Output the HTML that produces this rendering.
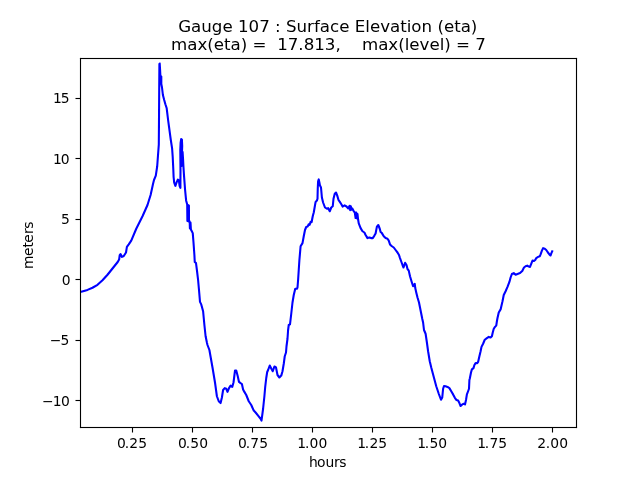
<!DOCTYPE html><html><head><meta charset="utf-8"><title>Gauge 107</title><style>html,body{margin:0;padding:0;background:#fff;width:640px;height:480px;overflow:hidden}svg{display:block;will-change:transform}text{font-family:"DejaVu Sans","Liberation Sans",sans-serif;fill:#000}</style></head><body>
<svg width="640" height="480" viewBox="0 0 640 480">
<rect x="0" y="0" width="640" height="480" fill="#fff"/>
<defs><clipPath id="ax"><rect x="80" y="57.6" width="496" height="369.6"/></clipPath></defs>
<path d="M80.00 292.00 L81.25 291.75 L87.50 289.90 L92.50 287.75 L97.50 284.80 L102.50 280.30 L107.50 274.75 L112.50 268.50 L117.70 262.00 L119.10 259.60 L119.75 255.00 L120.50 254.00 L122.00 256.90 L123.75 256.00 L126.00 252.50 L126.90 246.90 L128.75 244.40 L131.25 240.60 L136.25 228.75 L142.50 216.25 L147.50 205.00 L150.60 195.00 L152.25 187.50 L153.00 184.00 L154.00 180.00 L155.80 175.60 L157.20 166.25 L158.10 154.00 L158.80 144.70 L159.00 120.00 L159.20 90.00 L159.40 64.00 L159.70 63.50 L160.10 70.00 L160.40 76.00 L161.30 76.50 L161.30 84.00 L162.00 87.50 L162.90 95.00 L164.20 100.00 L165.40 104.20 L166.70 108.30 L167.30 113.30 L168.10 120.00 L169.00 126.70 L170.00 134.20 L170.80 140.00 L172.10 148.30 L172.70 156.70 L173.30 169.20 L173.60 177.00 L174.20 182.70 L175.40 185.80 L176.50 182.70 L177.80 179.60 L178.90 180.60 L179.60 185.80 L180.40 187.90 L180.50 170.00 L180.30 150.00 L180.60 143.00 L181.20 139.00 L181.90 139.50 L182.20 146.00 L181.50 166.00 L181.40 150.00 L182.60 152.00 L183.10 160.00 L183.40 166.00 L184.00 175.40 L185.10 190.00 L186.10 200.40 L187.20 204.50 L187.40 221.00 L188.00 205.00 L188.50 221.50 L188.90 205.50 L189.00 220.00 L189.70 222.00 L189.90 228.50 L190.50 222.50 L190.90 229.50 L191.70 231.00 L192.75 233.10 L193.50 242.50 L194.40 255.00 L194.75 261.90 L196.00 263.10 L196.90 270.00 L198.10 280.00 L199.00 290.00 L200.00 301.90 L201.25 304.40 L203.10 311.25 L204.40 325.00 L205.60 336.25 L206.90 342.50 L207.50 345.00 L209.40 350.00 L212.50 367.50 L215.00 382.50 L216.90 396.25 L218.75 401.25 L220.60 403.10 L221.90 397.50 L223.10 390.00 L224.75 388.10 L226.25 388.75 L227.50 391.90 L229.00 388.10 L230.60 385.60 L232.25 386.90 L233.50 382.50 L235.00 370.60 L236.25 370.60 L237.75 376.25 L239.00 381.90 L240.60 383.10 L241.90 384.00 L243.10 389.40 L244.40 391.90 L246.25 395.00 L248.75 401.25 L251.25 405.00 L253.75 410.60 L255.60 412.50 L258.10 415.60 L260.60 418.75 L261.50 420.60 L263.10 408.75 L264.40 396.25 L265.20 387.00 L266.25 378.00 L267.20 372.00 L268.10 370.00 L269.75 365.50 L271.25 368.50 L272.75 371.25 L274.40 366.50 L276.00 367.50 L277.50 375.00 L279.40 377.50 L281.25 375.60 L282.50 371.25 L283.75 363.75 L284.75 356.25 L286.00 352.50 L286.50 346.25 L287.50 338.75 L288.10 330.00 L288.75 325.00 L290.00 324.40 L291.25 313.75 L292.50 302.50 L293.75 295.00 L295.25 288.75 L296.90 288.75 L297.50 287.50 L298.10 280.00 L298.75 270.00 L299.40 260.00 L300.60 246.25 L302.50 243.10 L303.75 236.25 L305.00 230.00 L306.20 227.00 L307.60 226.60 L308.60 224.30 L309.60 224.80 L310.60 221.80 L311.60 222.20 L312.30 218.50 L312.80 216.00 L313.75 212.50 L314.40 208.75 L315.60 201.90 L316.90 200.60 L317.50 198.75 L317.75 188.75 L318.10 181.25 L318.75 179.40 L319.40 182.50 L320.00 185.60 L321.00 187.50 L321.90 197.50 L323.10 202.50 L325.00 207.50 L326.90 208.75 L328.10 208.10 L329.75 211.25 L331.25 207.50 L332.75 206.25 L333.50 198.75 L334.75 193.75 L336.00 192.50 L337.25 195.60 L338.50 200.00 L340.00 202.20 L341.50 204.50 L342.60 206.60 L344.60 205.40 L346.50 206.50 L348.30 208.50 L349.60 205.80 L350.20 210.20 L350.80 206.30 L351.50 209.80 L352.30 208.50 L353.50 210.80 L354.80 212.50 L355.60 218.00 L356.30 212.60 L357.00 218.50 L357.50 214.00 L358.10 219.50 L358.75 223.40 L360.60 228.10 L362.50 231.25 L364.40 232.50 L365.60 235.00 L367.50 238.10 L369.40 237.50 L371.00 238.10 L372.75 238.10 L374.40 235.60 L375.60 233.50 L376.90 226.60 L378.30 225.00 L379.75 228.75 L380.60 231.90 L381.90 233.10 L383.75 236.25 L385.60 238.10 L387.50 238.75 L388.75 240.60 L390.00 244.40 L391.90 246.25 L393.75 247.50 L395.60 250.00 L397.50 252.50 L399.00 255.00 L400.00 258.10 L401.25 261.50 L402.50 265.00 L403.50 267.50 L405.10 262.80 L406.50 265.00 L407.50 269.00 L408.75 270.60 L410.00 276.25 L411.50 281.25 L413.10 286.25 L414.75 283.75 L415.25 288.10 L416.25 292.50 L417.50 297.50 L419.00 302.50 L420.00 307.50 L421.25 313.75 L422.25 318.75 L423.10 322.50 L424.00 330.00 L425.60 333.75 L426.90 342.50 L428.10 351.25 L429.75 361.25 L431.25 367.50 L433.10 374.40 L436.25 386.25 L438.75 393.75 L441.00 399.75 L442.25 397.50 L443.10 388.75 L444.00 386.00 L445.60 386.25 L447.50 386.90 L449.40 388.10 L451.25 391.25 L453.10 394.40 L455.00 398.10 L456.50 400.00 L458.10 400.60 L459.40 403.10 L460.60 406.00 L462.25 404.40 L463.75 403.75 L465.00 404.40 L466.00 400.00 L466.90 394.40 L468.10 391.25 L469.00 388.75 L469.40 380.00 L469.75 378.75 L471.00 372.50 L471.90 369.40 L473.50 368.10 L474.40 365.00 L475.60 363.10 L477.25 363.10 L478.10 361.90 L479.40 356.25 L480.60 351.25 L481.50 346.90 L483.10 343.75 L484.75 339.75 L486.90 338.10 L488.75 336.90 L490.60 337.50 L491.90 336.25 L492.75 332.50 L493.75 328.75 L495.00 326.90 L496.25 325.60 L496.90 321.25 L497.50 318.00 L498.75 312.50 L500.60 309.40 L502.50 301.25 L503.75 295.00 L505.60 291.25 L507.50 286.90 L509.40 281.90 L510.60 277.50 L511.90 274.00 L513.75 273.10 L515.60 274.75 L517.50 274.00 L520.00 273.10 L522.25 271.00 L524.00 267.50 L525.60 266.25 L527.25 265.60 L528.75 266.60 L530.00 266.90 L531.50 263.10 L532.50 260.60 L534.00 261.00 L535.25 260.00 L536.25 258.10 L538.10 256.90 L539.75 256.25 L540.60 254.40 L541.90 250.60 L543.10 248.10 L544.75 248.75 L546.25 250.00 L547.75 252.25 L549.40 254.40 L550.50 255.50 L551.40 253.20 L552.20 251.40" fill="none" stroke="#0000ff" stroke-width="2.0833" stroke-linejoin="round" stroke-linecap="square" clip-path="url(#ax)"/>
<g fill="#000">
<rect x="79.944" y="57.944" width="497.111" height="1.111"/>
<rect x="79.944" y="426.944" width="497.111" height="1.111"/>
<rect x="79.944" y="57.944" width="1.111" height="370.111"/>
<rect x="575.944" y="57.944" width="1.111" height="370.111"/>
<rect x="131.944" y="427.500" width="1.111" height="5.000"/>
<rect x="191.944" y="427.500" width="1.111" height="5.000"/>
<rect x="251.944" y="427.500" width="1.111" height="5.000"/>
<rect x="311.944" y="427.500" width="1.111" height="5.000"/>
<rect x="371.944" y="427.500" width="1.111" height="5.000"/>
<rect x="431.944" y="427.500" width="1.111" height="5.000"/>
<rect x="491.944" y="427.500" width="1.111" height="5.000"/>
<rect x="551.944" y="427.500" width="1.111" height="5.000"/>
<rect x="75.500" y="97.944" width="5.000" height="1.111"/>
<rect x="75.500" y="157.944" width="5.000" height="1.111"/>
<rect x="75.500" y="218.944" width="5.000" height="1.111"/>
<rect x="75.500" y="278.944" width="5.000" height="1.111"/>
<rect x="75.500" y="339.944" width="5.000" height="1.111"/>
<rect x="75.500" y="399.944" width="5.000" height="1.111"/>
</g>
<g font-size="13.889px">
<text x="117.04 124.87 129.29 138.13" y="448.00">0.25</text>
<text x="177.89 185.87 190.29 199.13" y="448.00">0.50</text>
<text x="237.89 245.87 250.29 259.13" y="448.00">0.75</text>
<text x="297.29 305.12 309.54 318.38" y="448.00">1.00</text>
<text x="357.29 364.87 369.39 378.13" y="448.00">1.25</text>
<text x="417.29 424.87 429.44 438.13" y="448.00">1.50</text>
<text x="477.29 484.87 489.39 498.18" y="448.00">1.75</text>
<text x="537.29 545.87 550.19 559.13" y="448.00">2.00</text>
<text x="52.93 60.76" y="103.00">15</text>
<text x="52.93 60.76" y="164.00">10</text>
<text x="61.01" y="224.00">5</text>
<text x="61.76" y="285.00">0</text>
<text x="49.63 60.51" y="345.00">−5</text>
<text x="41.94 52.68 61.01" y="406.00">−10</text>
<text x="308.88 316.88 325.58 333.88 339.29" y="467.00">hours</text>
<text transform="translate(33.00 244.60) rotate(-90)" x="-24.41 -11.38 -3.03 1.91 10.56 15.87" y="0">meters</text>
</g>
<g font-size="16.667px">
<text x="327.80" y="32.00" text-anchor="middle">Gauge 107 : Surface Elevation (eta)</text>
<text x="328.50" y="50.30" text-anchor="middle" xml:space="preserve">max(eta) =  17.813,    max(level) = 7</text>
</g>
</svg></body></html>
